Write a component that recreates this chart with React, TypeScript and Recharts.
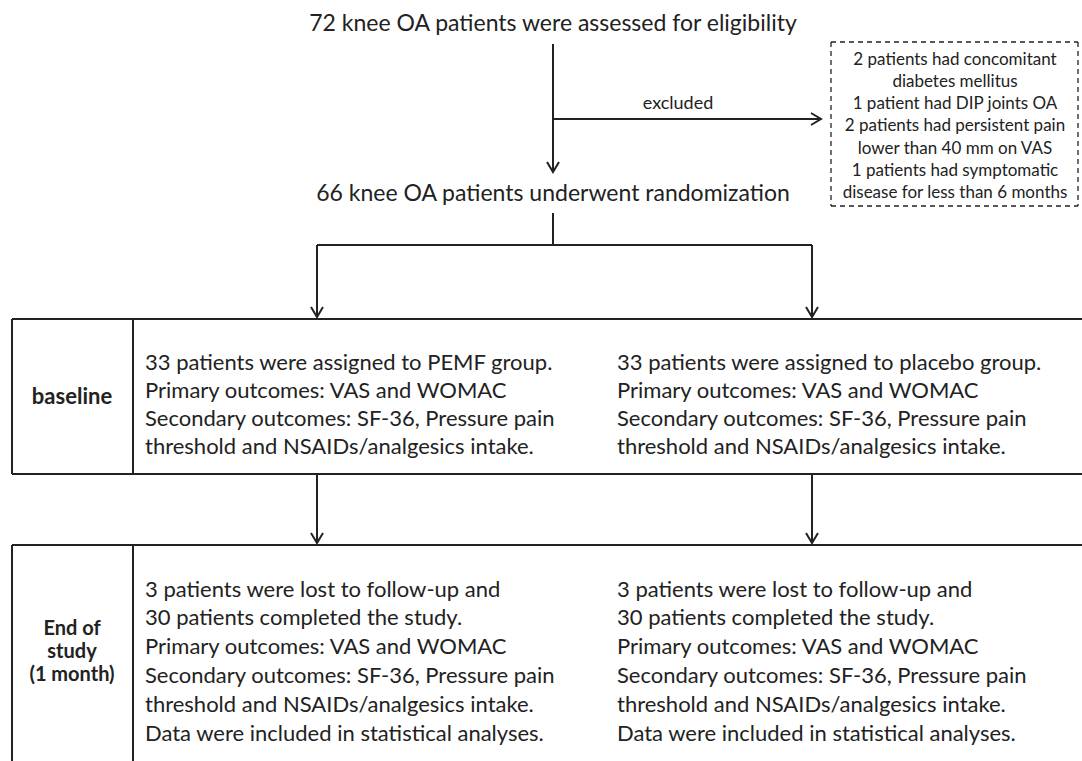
import React from 'react'
import { ComposedChart, XAxis, YAxis, ReferenceLine, Scatter } from 'recharts'

// Flow text
const screeningText = ['72  knee OA patients were assessed for eligibility']
const excludedLabel = ['excluded']
const exclusionReasons = [
  '2 patients had concomitant',
  'diabetes mellitus',
  '1 patient had DIP joints OA',
  '2 patients had persistent pain',
  'lower than 40 mm on VAS',
  '1 patients had symptomatic',
  'disease for less than 6 months',
]
const randomizationText = ['66 knee OA patients underwent randomization']
const baselineStage = ['baseline']
const endStage = ['End of', 'study', '(1 month)']
const pemfBaseline = [
  '33 patients were assigned to PEMF group.',
  'Primary outcomes: VAS and WOMAC',
  'Secondary outcomes: SF-36, Pressure pain',
  'threshold and NSAIDs/analgesics intake.',
]
const placeboBaseline = [
  '33 patients were assigned to placebo group.',
  'Primary outcomes: VAS and WOMAC',
  'Secondary outcomes: SF-36, Pressure pain',
  'threshold and NSAIDs/analgesics intake.',
]
const pemfEnd = [
  '3 patients were lost to follow-up and',
  '30 patients completed the study.',
  'Primary outcomes: VAS and WOMAC',
  'Secondary outcomes: SF-36, Pressure pain',
  'threshold and NSAIDs/analgesics intake.',
  'Data were included in statistical analyses.',
]
const placeboEnd = [
  '3 patients were lost to follow-up and',
  '30 patients completed the study.',
  'Primary outcomes: VAS and WOMAC',
  'Secondary outcomes: SF-36, Pressure pain',
  'threshold and NSAIDs/analgesics intake.',
  'Data were included in statistical analyses.',
]

// layout in axis units (x: 0..1082, y: 0..761 top-down)
const W = 1082
const H = 761
const INK = '#222'
const FONT = 'Lato, "Open Sans", sans-serif'
const mainX = 553
const armX = [317, 812]
const colX = [145, 617]
const boxLeft = 12
const divX = 133
const box1 = { top: 319, bottom: 474 }
const box2 = { top: 545, bottom: 780 }
const dash = { x1: 831, x2: 1078, y1: 42, y2: 206 }

type TextItem = { x: number; y: number; text: string; anchor: string; size: number; weight: number }

const stack = (lines: string[], x: number, y0: number, step: number, anchor: string, size: number, weight = 400): TextItem[] =>
  lines.map((text, i) => ({ x, y: y0 + i * step, text, anchor, size, weight }))

const textItems: TextItem[] = [
  ...stack(screeningText, mainX, 22, 0, 'middle', 23),
  ...stack(excludedLabel, 678, 102, 0, 'middle', 18),
  ...stack(exclusionReasons, 955, 58, 22.3, 'middle', 17),
  ...stack(randomizationText, mainX, 192, 0, 'middle', 23),
  ...stack(baselineStage, 72, 395, 0, 'middle', 22, 700),
  ...stack(endStage, 72, 627, 23, 'middle', 20, 700),
  ...stack(pemfBaseline, colX[0], 361, 28, 'start', 22),
  ...stack(placeboBaseline, colX[1], 361, 28, 'start', 22),
  ...stack(pemfEnd, colX[0], 588, 28.8, 'start', 22),
  ...stack(placeboEnd, colX[1], 588, 28.8, 'start', 22),
]

type Arrow = { x: number; y: number; dir: 'down' | 'right' }
const arrowHeads: Arrow[] = [
  { x: mainX, y: 172, dir: 'down' },
  { x: 821, y: 119, dir: 'right' },
  { x: armX[0], y: 317, dir: 'down' },
  { x: armX[1], y: 317, dir: 'down' },
  { x: armX[0], y: 543, dir: 'down' },
  { x: armX[1], y: 543, dir: 'down' },
]

type Seg = { x1: number; y1: number; x2: number; y2: number; dashed?: boolean; w?: number }
const segments: Seg[] = [
  { x1: mainX, y1: 44, x2: mainX, y2: 171 },
  { x1: mainX, y1: 119, x2: 820, y2: 119 },
  { x1: mainX, y1: 213, x2: mainX, y2: 245 },
  { x1: armX[0], y1: 245, x2: armX[1], y2: 245 },
  { x1: armX[0], y1: 245, x2: armX[0], y2: 316 },
  { x1: armX[1], y1: 245, x2: armX[1], y2: 316 },
  { x1: armX[0], y1: box1.bottom, x2: armX[0], y2: 542 },
  { x1: armX[1], y1: box1.bottom, x2: armX[1], y2: 542 },
  // baseline box
  { x1: boxLeft, y1: box1.top, x2: W + 4, y2: box1.top },
  { x1: boxLeft, y1: box1.bottom, x2: W + 4, y2: box1.bottom },
  { x1: boxLeft, y1: box1.top, x2: boxLeft, y2: box1.bottom },
  { x1: divX, y1: box1.top, x2: divX, y2: box1.bottom },
  // end of study box
  { x1: boxLeft, y1: box2.top, x2: W + 4, y2: box2.top },
  { x1: boxLeft, y1: box2.top, x2: boxLeft, y2: box2.bottom },
  { x1: divX, y1: box2.top, x2: divX, y2: box2.bottom },
  // excluded box (dashed)
  { x1: dash.x1, y1: dash.y1, x2: dash.x2, y2: dash.y1, dashed: true, w: 1.3 },
  { x1: dash.x1, y1: dash.y2, x2: dash.x2, y2: dash.y2, dashed: true, w: 1.3 },
  { x1: dash.x1, y1: dash.y1, x2: dash.x1, y2: dash.y2, dashed: true, w: 1.3 },
  { x1: dash.x2, y1: dash.y1, x2: dash.x2, y2: dash.y2, dashed: true, w: 1.3 },
]

const TextShape = (props: any) => {
  const { cx, cy, payload } = props
  return (
    <text
      x={cx}
      y={cy}
      textAnchor={payload.anchor}
      dominantBaseline="central"
      fontSize={payload.size}
      fontWeight={payload.weight}
      fontFamily={FONT}
      fill={INK}
    >
      {payload.text}
    </text>
  )
}

const ArrowShape = (props: any) => {
  const { cx, cy, payload } = props
  const d = payload.dir === 'down'
    ? `M${cx - 6},${cy - 10} L${cx},${cy} L${cx + 6},${cy - 10}`
    : `M${cx - 10},${cy - 6} L${cx},${cy} L${cx - 10},${cy + 6}`
  return <path d={d} fill="none" stroke={INK} strokeWidth={2} strokeLinejoin="miter" />
}

export default function App() {
  return (
    <div style={{ width: W, height: H, background: '#fff' }}>
      <style>{'body{margin:0}'}</style>
      <ComposedChart width={W} height={H} margin={{ top: 0, right: 0, bottom: 0, left: 0 }}>
        <XAxis type="number" dataKey="x" domain={[0, W]} hide allowDataOverflow />
        <YAxis type="number" dataKey="y" domain={[0, H]} reversed hide allowDataOverflow />
        {segments.map((s, i) => (
          <ReferenceLine
            key={`seg-${i}`}
            segment={[{ x: s.x1, y: s.y1 }, { x: s.x2, y: s.y2 }]}
            stroke={INK}
            strokeWidth={s.w ?? 2}
            strokeDasharray={s.dashed ? '5 4' : undefined}
            ifOverflow="visible"
          />
        ))}
        <Scatter data={arrowHeads} shape={<ArrowShape />} isAnimationActive={false} />
        <Scatter data={textItems} shape={<TextShape />} isAnimationActive={false} />
      </ComposedChart>
    </div>
  )
}
